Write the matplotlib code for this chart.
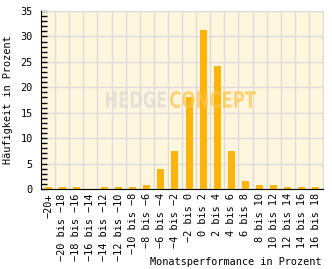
import matplotlib
matplotlib.use("Agg")
import matplotlib.pyplot as plt
from matplotlib.ticker import MultipleLocator, FixedLocator
from matplotlib.textpath import TextPath
from matplotlib.patches import PathPatch
from matplotlib.font_manager import FontProperties
from matplotlib.transforms import Affine2D, IdentityTransform

# Klassen der Monatsperformance
categories = ["\u221220+", "\u221220 bis \u221218", "\u221218 bis \u221216", "\u221216 bis \u221214",
              "\u221214 bis \u221212", "\u221212 bis \u221210", "\u221210 bis \u22128", "\u22128 bis \u22126",
              "\u22126 bis \u22124", "\u22124 bis \u22122", "\u22122 bis 0", "0 bis 2", "2 bis 4",
              "4 bis 6", "6 bis 8", "8 bis 10", "10 bis 12", "12 bis 14", "14 bis 16", "16 bis 18"]
# Häufigkeit in Prozent
values = [0.4, 0.4, 0.4, 0.0, 0.4, 0.4, 0.4, 0.8, 3.9, 7.5,
          18.0, 31.3, 24.2, 7.5, 1.6, 0.8, 0.8, 0.4, 0.4, 0.4]

mono = "DejaVu Sans Mono"
fs = 7.4

fig = plt.figure(figsize=(3.32, 2.69), dpi=100)
ax = fig.add_axes([41/332, 1-189/269, 282/332, 178/269])
ax.set_facecolor("#fff6dd")

x = list(range(len(categories)))
ax.bar(x, values, width=0.5, color="#ffb40c", zorder=3)

ax.set_xlim(-0.5, len(categories)-0.5)
ax.set_ylim(0, 35)

# Gitter
ax.yaxis.set_major_locator(MultipleLocator(5))
ax.yaxis.set_minor_locator(MultipleLocator(1))
ax.xaxis.set_major_locator(FixedLocator(x))
ax.xaxis.set_minor_locator(FixedLocator([i + 0.5 for i in x]))
ax.grid(axis="y", which="major", color="#dcdcdc", lw=1, zorder=1)
ax.grid(axis="x", which="minor", color="#dcdcdc", lw=1, zorder=1)

ax.tick_params(axis="y", which="both", direction="in", length=4, width=1,
               labelsize=fs, pad=6)
ax.tick_params(axis="x", which="both", length=0, labelsize=fs, pad=3)
ax.set_xticklabels(categories, rotation=90, va="top", ha="center", family=mono)
for t in ax.get_yticklabels():
    t.set_family(mono)

for s in ["top", "right"]:
    ax.spines[s].set_color("#dcdcdc")
for s in ["left", "bottom"]:
    ax.spines[s].set_color("black")
    ax.spines[s].set_zorder(4)

fig.text(8/332, 1-100/269, "Häufigkeit in Prozent", rotation=90, ha="center", va="center",
         family=mono, fontsize=fs)
fig.text(322/332, 1-262/269, "Monatsperformance in Prozent", ha="right", va="center",
         family=mono, fontsize=fs)

# Wasserzeichen (schmale Schrift durch Stauchen)
def watermark(text, x0, x1, y_top, y_bot, color, alpha):
    p = TextPath((0, 0), text, size=20, prop=FontProperties(family="DejaVu Sans", weight="bold"))
    e = p.get_extents()
    H = fig.get_figheight() * fig.dpi
    sx = (x1 - x0) / e.width
    sy = (y_bot - y_top) / e.height
    tr = Affine2D().translate(-e.x0, -e.y0).scale(sx, sy).translate(x0, H - y_bot)
    patch = PathPatch(p, transform=tr + IdentityTransform(), color=color, alpha=alpha,
                      lw=0, zorder=10)
    fig.patches.append(patch)

watermark("HEDGE", 106, 166, 91, 108, "#d4d4d4", 0.6)
watermark("CONCEPT", 170, 256, 91, 108, "#ffc64a", 0.7)

fig.savefig("out.png", dpi=100)
